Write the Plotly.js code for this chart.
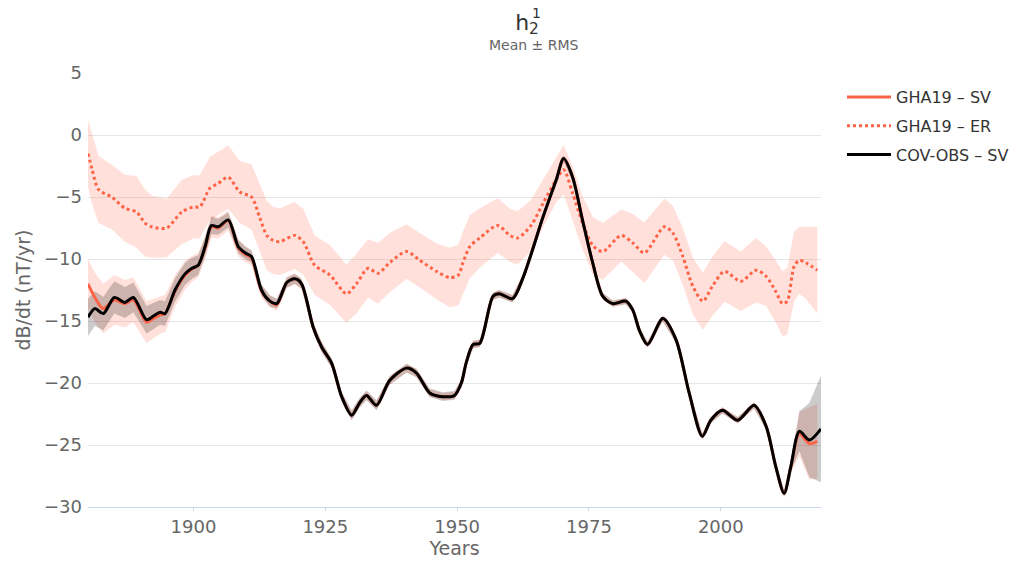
<!DOCTYPE html>
<html>
<head>
<meta charset="utf-8">
<script src="https://cdn.plot.ly/plotly-3.0.1.min.js"></script>
<style>html,body{margin:0;padding:0;background:#fff;}#chart{width:1025px;height:563px;}</style>
</head>
<body>
<div id="chart"></div>
<script>
// COV-OBS secular variation (mean and RMS)
const covYears = [1880,1881.3,1882.9,1885,1887,1888.6,1891.1,1892.4,1893.7,1894.6,1896.5,1898.4,1899.7,1900.9,1902.2,1903.4,1904.7,1906.6,1908.5,1909.8,1911,1912.9,1914.5,1915.8,1917.7,1919.2,1920.5,1922.7,1924.3,1926.2,1928.1,1930,1931.5,1932.8,1934.7,1937.2,1940.4,1942.3,1944.8,1947.3,1949.5,1950.8,1951.7,1953,1954.3,1956.8,1958,1960.5,1962.5,1966.3,1968.8,1970.2,1971.9,1973.8,1975.7,1977.6,1979.5,1982,1983.3,1984.6,1986.1,1989,1991.5,1994,1996.5,1998.1,2000.3,2003.2,2006.3,2008.6,2010.4,2012,2013.3,2014.9,2016.8,2019];
const covSV = [-14.7,-14.0,-14.4,-13.1,-13.5,-13.1,-14.9,-14.6,-14.3,-14.4,-12.5,-11.2,-10.75,-10.5,-9.0,-7.3,-7.4,-6.85,-9.0,-9.5,-9.8,-12.5,-13.4,-13.6,-11.9,-11.6,-12.0,-15.5,-17.1,-18.4,-21.1,-22.6,-21.6,-21.0,-21.8,-19.8,-18.8,-19.2,-20.8,-21.1,-21.0,-20.0,-18.4,-16.9,-16.8,-13.0,-12.8,-13.2,-11.5,-6.6,-3.6,-1.9,-3.4,-6.9,-10.3,-13.0,-13.6,-13.4,-14.1,-15.8,-16.9,-14.8,-16.5,-20.8,-24.3,-23.0,-22.2,-23.0,-21.8,-23.5,-26.7,-28.9,-26.7,-23.9,-24.6,-23.7];
const covRMS = [1.5,1.4,1.35,1.3,1.25,1.2,1.1,1.05,1.0,1.0,0.95,0.9,0.85,0.8,0.75,0.7,0.65,0.6,0.55,0.5,0.5,0.45,0.45,0.4,0.4,0.4,0.4,0.4,0.4,0.4,0.4,0.4,0.4,0.4,0.4,0.35,0.35,0.35,0.35,0.35,0.35,0.3,0.3,0.3,0.3,0.3,0.3,0.3,0.25,0.25,0.25,0.25,0.25,0.25,0.25,0.25,0.25,0.25,0.25,0.25,0.25,0.25,0.25,0.25,0.25,0.25,0.25,0.25,0.25,0.25,0.25,0.3,0.4,1.6,3.0,4.3];

// GHA19 secular variation (mean and RMS)
const ghaSvYears = [1880,1881.3,1882.9,1885,1887,1888.6,1891.1,1892.4,1893.7,1894.6,1896.5,1898.4,1899.7,1900.9,1902.2,1903.4,1904.7,1906.6,1908.5,1909.8,1911,1912.9,1914.5,1915.8,1917.7,1919.2,1920.5,1922.7,1924.3,1926.2,1928.1,1930,1931.5,1932.8,1934.7,1937.2,1940.4,1942.3,1944.8,1947.3,1949.5,1950.8,1951.7,1953,1954.3,1956.8,1958,1960.5,1962.5,1966.3,1968.8,1970.2,1971.9,1973.8,1975.7,1977.6,1979.5,1982,1983.3,1984.6,1986.1,1989,1991.5,1994,1996.5,1998.1,2000.3,2003.2,2006.3,2008.6,2010.4,2012,2013.3,2014.9,2016.8,2018.3];
const ghaSV = [-12.0,-13.1,-14.0,-13.3,-13.6,-13.3,-15.1,-14.8,-14.5,-14.4,-12.6,-11.3,-10.8,-10.5,-9.1,-7.4,-7.5,-6.9,-9.1,-9.6,-9.9,-12.6,-13.4,-13.7,-11.9,-11.6,-12.0,-15.5,-17.1,-18.4,-21.1,-22.6,-21.6,-21.0,-21.8,-19.8,-18.8,-19.2,-20.8,-21.1,-21.0,-20.0,-18.4,-16.9,-16.8,-13.0,-12.8,-13.2,-11.5,-6.6,-3.6,-1.9,-3.4,-6.9,-10.3,-13.0,-13.6,-13.4,-14.1,-15.8,-16.9,-14.8,-16.5,-20.8,-24.3,-23.0,-22.2,-23.0,-21.8,-23.5,-26.7,-28.9,-26.7,-24.1,-24.9,-24.7];
const ghaSvRMS = [2.0,2.0,2.0,2.0,1.9,1.8,1.7,1.6,1.5,1.5,1.3,1.15,1.05,1.0,0.95,0.9,0.85,0.8,0.7,0.65,0.6,0.55,0.5,0.5,0.45,0.45,0.4,0.4,0.4,0.35,0.35,0.35,0.35,0.35,0.35,0.35,0.35,0.3,0.3,0.3,0.3,0.3,0.3,0.3,0.3,0.3,0.3,0.3,0.3,0.25,0.25,0.25,0.25,0.25,0.25,0.25,0.25,0.25,0.25,0.25,0.25,0.25,0.25,0.25,0.25,0.25,0.25,0.25,0.25,0.25,0.25,0.3,0.5,1.8,2.9,3.0];

// GHA19 ensemble-residual (mean and RMS)
const ghaErYears = [1880,1880.8,1882,1884.5,1887,1889.2,1890.8,1892.1,1894.9,1897.8,1900,1901.2,1903.1,1904.7,1906.6,1908.8,1911,1912.6,1913.9,1915.1,1916.4,1919.2,1920.8,1923,1925.9,1929,1930.9,1933.1,1935,1937.2,1940.4,1942.9,1946.1,1948.6,1950.2,1951.1,1952.4,1954.3,1957.7,1960,1961.5,1964,1966.3,1968.8,1970.2,1971.9,1973.8,1975.7,1977.6,1981.1,1983.3,1985.5,1989.3,1990.9,1992.8,1994.7,1996.6,1998.4,2000.7,2003.8,2006.7,2008.6,2010.4,2011.7,2012.6,2013.9,2014.9,2016.1,2018.3];
const ghaER = [-1.5,-2.8,-4.4,-5.0,-5.9,-6.2,-7.1,-7.4,-7.5,-6.2,-5.8,-5.8,-4.3,-3.9,-3.4,-4.6,-5.0,-6.7,-8.1,-8.5,-8.6,-8.1,-8.6,-10.5,-11.3,-12.8,-12.0,-10.75,-11.15,-10.3,-9.4,-10.1,-11.0,-11.5,-11.3,-10.3,-9.0,-8.3,-7.3,-8.1,-8.3,-7.3,-5.5,-3.6,-2.8,-4.7,-7.1,-8.9,-9.4,-8.1,-8.7,-9.5,-7.4,-7.9,-9.8,-12.2,-13.4,-12.2,-11.0,-11.8,-10.9,-11.4,-12.6,-13.6,-13.4,-10.6,-10.1,-10.3,-10.9];
const ghaErRMS = [2.7,2.8,2.7,2.6,2.7,2.9,2.7,2.5,2.35,2.6,2.55,2.55,2.55,2.55,2.55,2.5,2.65,2.7,2.8,2.7,2.7,2.7,2.65,2.4,2.4,2.35,2.4,2.35,2.45,2.4,2.2,2.2,2.25,2.4,2.45,2.5,2.55,2.4,2.2,2.15,2.15,2.05,1.9,1.8,2.0,2.15,2.15,2.3,2.3,2.1,2.35,2.45,2.25,2.2,2.3,2.3,2.3,2.4,2.45,2.4,2.6,2.4,2.5,2.6,2.7,2.8,2.7,2.9,3.5];

const legendNames = ["GHA19 – SV", "GHA19 – ER", "COV-OBS – SV"];
const red = "rgb(255,99,71)";

function band(xs, mean, rms, color) {
  const up = mean.map((m, i) => m + rms[i]);
  const lo = mean.map((m, i) => m - rms[i]);
  return {
    x: xs.concat(xs.slice().reverse()),
    y: up.concat(lo.slice().reverse()),
    type: "scatter", mode: "lines", fill: "toself",
    fillcolor: color, line: {width: 0, color: "rgba(0,0,0,0)"},
    hoverinfo: "skip", showlegend: false
  };
}

const traces = [
  band(ghaErYears, ghaER, ghaErRMS, "rgba(255,99,71,0.2)"),
  band(ghaSvYears, ghaSV, ghaSvRMS, "rgba(255,99,71,0.2)"),
  band(covYears, covSV, covRMS, "rgba(0,0,0,0.2)"),
  {x: ghaSvYears, y: ghaSV, type: "scatter", mode: "lines", name: legendNames[0], legendgroup: "a",
   line: {color: red, width: 3, shape: "spline", smoothing: 0.8}},
  {x: ghaErYears, y: ghaER, type: "scatter", mode: "lines", name: legendNames[1], legendgroup: "b",
   line: {color: red, width: 3, dash: "dot", shape: "spline", smoothing: 0.8}},
  {x: covYears, y: covSV, type: "scatter", mode: "lines", name: legendNames[2], legendgroup: "c",
   line: {color: "#000", width: 3, shape: "spline", smoothing: 0.8}}
];

const font = "DejaVu Sans, sans-serif";
const layout = {
  width: 1025, height: 563,
  margin: {l: 88, r: 203, t: 73, b: 56},
  paper_bgcolor: "#fff", plot_bgcolor: "#fff",
  font: {family: font, color: "#666666"},
  title: {
    text: "h<sub>2</sub>",
    font: {family: font, size: 22, color: "#333333"},
    x: 527 / 1025, xref: "container", xanchor: "center",
    y: 1 - 22 / 563, yref: "container", yanchor: "middle"
  },
  annotations: [
    {text: "1", xref: "paper", yref: "paper", x: (537 - 88) / 734, y: (507 - 13) / 434,
     xanchor: "center", yanchor: "middle", showarrow: false,
     font: {family: font, size: 14, color: "#333333"}},
    {text: "Mean ± RMS", xref: "paper", yref: "paper", x: (535 - 88) / 734, y: (507 - 45) / 434,
     xanchor: "center", yanchor: "middle", showarrow: false,
     font: {family: font, size: 14, color: "#666666"}}
  ],
  xaxis: {
    range: [1880, 2019], tickvals: [1900, 1925, 1950, 1975, 2000],
    showgrid: false, zeroline: false,
    showline: true, linecolor: "#ccd6eb", linewidth: 1,
    ticks: "outside", ticklen: 3, tickcolor: "#ccd6eb",
    tickfont: {family: font, size: 18, color: "#666666"},
    title: {text: "Years", font: {family: font, size: 19, color: "#666666"}, standoff: 5}
  },
  yaxis: {
    range: [-30, 5], dtick: 5, tick0: 0,
    showgrid: true, gridcolor: "#e6e6e6", gridwidth: 1,
    zeroline: false, showline: false, ticks: "", ticklabelstandoff: 5,
    tickfont: {family: font, size: 18, color: "#666666"},
    title: {text: "dB/dt (nT/yr)", font: {family: font, size: 19, color: "#666666"}, standoff: 8}
  },
  legend: {
    x: (842 - 88) / 734, xanchor: "left", y: (507 - 80) / 434, yanchor: "top",
    font: {family: font, size: 16, color: "#333333"},
    itemwidth: 44, tracegroupgap: 5, bgcolor: "rgba(0,0,0,0)"
  },
  showlegend: true
};

Plotly.newPlot("chart", traces, layout, {displayModeBar: false, staticPlot: true});
</script>
</body>
</html>
